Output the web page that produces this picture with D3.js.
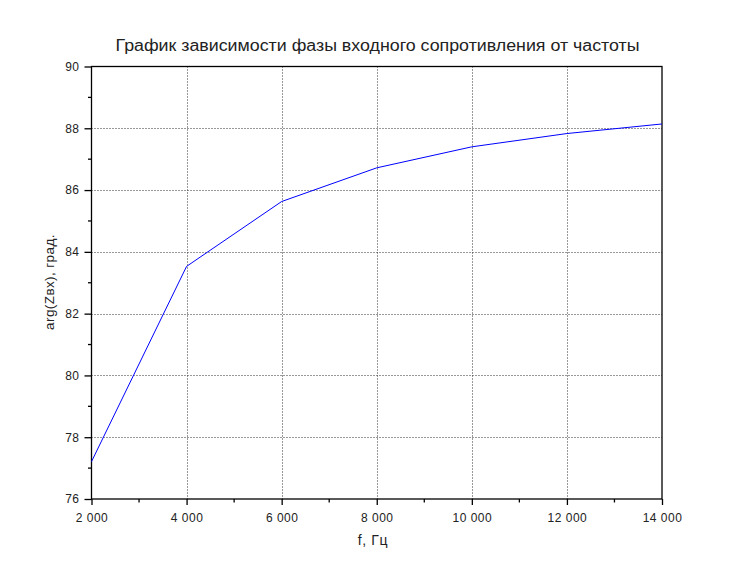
<!DOCTYPE html>
<html><head><meta charset="utf-8">
<script src="https://cdn.jsdelivr.net/npm/d3@7"></script>
<style>body{margin:0;background:#fff}text{font-family:"Liberation Sans",Arial,sans-serif;fill:#222}</style>
</head><body><svg id="c" width="756" height="568"></svg>
<script>
const freq = [2000, 4000, 6000, 8000, 10000, 12000, 14000];
const phase = [77.21, 83.53, 85.63, 86.72, 87.40, 87.83, 88.14];
const xTicks = [2000, 4000, 6000, 8000, 10000, 12000, 14000];
const yTicks = [76, 78, 80, 82, 84, 86, 88, 90];
const title = "График зависимости фазы входного сопротивления от частоты";
const xLabel = "f, Гц";
const yLabel = "arg(Zвх), град.";

const svg = d3.select("#c");
const L = 91.5, R = 662, T = 66.5, B = 499;
const x = d3.scaleLinear().domain([2000, 14000]).range([L, R]);
const y = d3.scaleLinear().domain([76, 90]).range([B, T]);
const fmtS = v => { const s = String(v); return s.length > 3 ? s.slice(0, s.length-3) + " " + s.slice(-3) : s; };

// grid
const g = svg.append("g").attr("stroke", "#333").attr("stroke-dasharray", "1,2").attr("stroke-width", 1);
xTicks.slice(1, -1).forEach(v => g.append("line").attr("x1", Math.round(x(v))+0.5).attr("x2", Math.round(x(v))+0.5).attr("y1", T).attr("y2", B));
yTicks.slice(1, -1).forEach(v => g.append("line").attr("y1", Math.round(y(v))+0.5).attr("y2", Math.round(y(v))+0.5).attr("x1", L).attr("x2", R));

// frame
svg.append("rect").attr("x", L).attr("y", T).attr("width", R-L).attr("height", B-T).attr("fill", "none").attr("stroke", "#000").attr("stroke-width", 1.3);

// axes
const xAxis = d3.axisBottom(x).tickValues(xTicks).tickFormat(fmtS).tickSize(6).tickPadding(8);
const xg = svg.append("g").attr("transform", `translate(0,${B})`).call(xAxis);
const yAxis = d3.axisLeft(y).tickValues(yTicks).tickFormat(d3.format("d")).tickSize(7).tickPadding(5);
const yg = svg.append("g").attr("transform", `translate(${L},0)`).call(yAxis);
[xg, yg].forEach(a => { a.select(".domain").remove(); a.selectAll("line").attr("stroke", "#000").attr("stroke-width", 1.3); a.selectAll("text").style("font-size", "12px").style("letter-spacing", "0.5px").style("font-family", "'Liberation Sans',Arial,sans-serif").attr("fill", "#222"); });
// minor ticks
const xMinor = d3.range(3000, 14000, 2000);
const yMinor = d3.range(77, 90, 2);
svg.append("g").selectAll("line").data(xMinor).join("line").attr("x1", d => x(d)).attr("x2", d => x(d)).attr("y1", B).attr("y2", B+3.5).attr("stroke", "#000").attr("stroke-width", 1.3);
svg.append("g").selectAll("line").data(yMinor).join("line").attr("y1", d => y(d)).attr("y2", d => y(d)).attr("x1", L).attr("x2", L-3.5).attr("stroke", "#000").attr("stroke-width", 1.3);

// line
svg.append("path").datum(freq.map((f, i) => [f, phase[i]]))
  .attr("fill", "none").attr("stroke", "#0000ff").attr("stroke-width", 1)
  .attr("d", d3.line().x(d => x(d[0])).y(d => y(d[1])));

// labels
svg.append("text").attr("x", 377.5).attr("y", 51).attr("text-anchor", "middle").style("font-size", "16px")
  .attr("textLength", 524).attr("lengthAdjust", "spacingAndGlyphs").text(title);
svg.append("text").attr("x", 373).attr("y", 545).attr("text-anchor", "middle").style("font-size", "14px")
  .style("letter-spacing", "0.6px").text(xLabel);
svg.append("text").attr("transform", "translate(54,282) rotate(-90)").attr("text-anchor", "middle").style("font-size", "13.5px")
  .style("letter-spacing", "0.4px").text(yLabel);
</script></body></html>
